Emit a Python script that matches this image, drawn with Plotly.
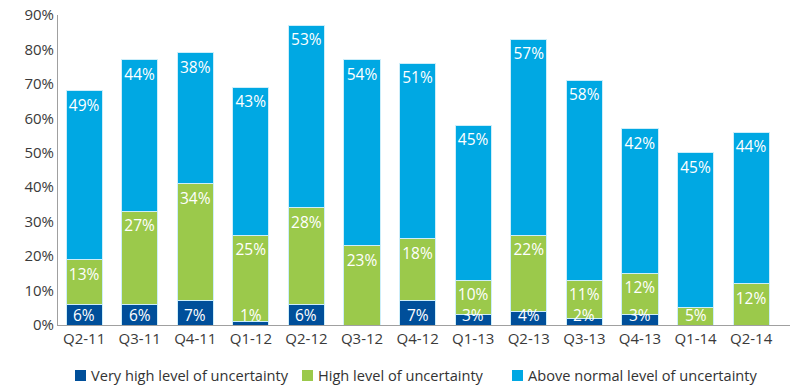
import plotly.graph_objects as go

quarters = ["Q2-11", "Q3-11", "Q4-11", "Q1-12", "Q2-12", "Q3-12", "Q4-12",
            "Q1-13", "Q2-13", "Q3-13", "Q4-13", "Q1-14", "Q2-14"]
very_high = [6, 6, 7, 1, 6, 0, 7, 3, 4, 2, 3, 0, 0]
high = [13, 27, 34, 25, 28, 23, 18, 10, 22, 11, 12, 5, 12]
above_normal = [49, 44, 38, 43, 53, 54, 51, 45, 57, 58, 42, 45, 44]
y_ticks = [0, 10, 20, 30, 40, 50, 60, 70, 80, 90]

series_names = ["Very high level of uncertainty",
                "High level of uncertainty",
                "Above normal level of uncertainty"]
series_values = [very_high, high, above_normal]
series_colors = ["#004f9a", "#9bc94b", "#00a8e3"]

FONT = "Open Sans"
TEXT_COLOR = "#3a3a3a"
LABEL_SIZE = 15.5
SMALL_SEGMENT = 8  # segments below this get their label sitting on the segment base

W, H = 792, 385
ML, MR, MT, MB = 58, 2, 15, 60
PW, PH = W - ML - MR, H - MT - MB


def px_x(px):
    return (px - ML) / PW


def px_y(py):
    return (H - MB - py) / PH


fig = go.Figure()
annotations = []
bases = [0] * len(quarters)
for name, vals, color in zip(series_names, series_values, series_colors):
    fig.add_trace(go.Bar(
        x=quarters,
        y=vals,
        name=name,
        marker=dict(color=color, line=dict(color="#cdeefa", width=1)),
        text=[f"{v}%" if v >= SMALL_SEGMENT else "" for v in vals],
        textposition="inside",
        insidetextanchor="end",
        textangle=0,
        textfont=dict(family=FONT, size=LABEL_SIZE, color="white"),
        hoverinfo="skip",
        showlegend=False,
    ))
    for i, (q, v) in enumerate(zip(quarters, vals)):
        if 0 < v < SMALL_SEGMENT:
            annotations.append(dict(
                x=q, y=bases[i], xref="x", yref="y",
                text=f"{v}%", showarrow=False,
                xanchor="center", yanchor="bottom", yshift=-3,
                font=dict(family=FONT, size=LABEL_SIZE, color="white"),
            ))
        bases[i] += v

# legend row drawn beneath the axis
legend_square_x = [75, 302, 512]
legend_y = 375.5
shapes = []
for name, color, sx in zip(series_names, series_colors, legend_square_x):
    shapes.append(dict(
        type="rect", xref="paper", yref="paper",
        x0=px_x(sx), x1=px_x(sx + 11),
        y0=px_y(legend_y + 5.5), y1=px_y(legend_y - 5.5),
        fillcolor=color, line=dict(width=0),
    ))
    annotations.append(dict(
        xref="paper", yref="paper",
        x=px_x(sx + 14), y=px_y(legend_y - 1),
        xanchor="left", yanchor="middle",
        text=name, showarrow=False,
        font=dict(family=FONT, size=14.6, color="#333333"),
    ))

fig.update_layout(
    barmode="stack",
    bargap=0.35,
    width=W,
    height=H,
    margin=dict(l=ML, r=MR, t=MT, b=MB, autoexpand=False),
    paper_bgcolor="white",
    plot_bgcolor="white",
    uniformtext=dict(minsize=LABEL_SIZE, mode="show"),
    font=dict(family=FONT, color=TEXT_COLOR, size=14),
    showlegend=False,
    shapes=shapes,
    annotations=annotations,
    xaxis=dict(
        range=[-0.47, 12.7],
        showline=True,
        linecolor="#a0a0a0",
        linewidth=1,
        ticks="",
        showgrid=False,
        tickfont=dict(family=FONT, size=15, color=TEXT_COLOR),
    ),
    yaxis=dict(
        range=[0, 90],
        tickvals=y_ticks,
        ticktext=[f"{t}%" for t in y_ticks],
        showline=True,
        linecolor="#a0a0a0",
        linewidth=1,
        showgrid=False,
        zeroline=False,
        ticks="",
        tickfont=dict(family=FONT, size=15, color=TEXT_COLOR),
    ),
)

fig.write_html("out.html")
